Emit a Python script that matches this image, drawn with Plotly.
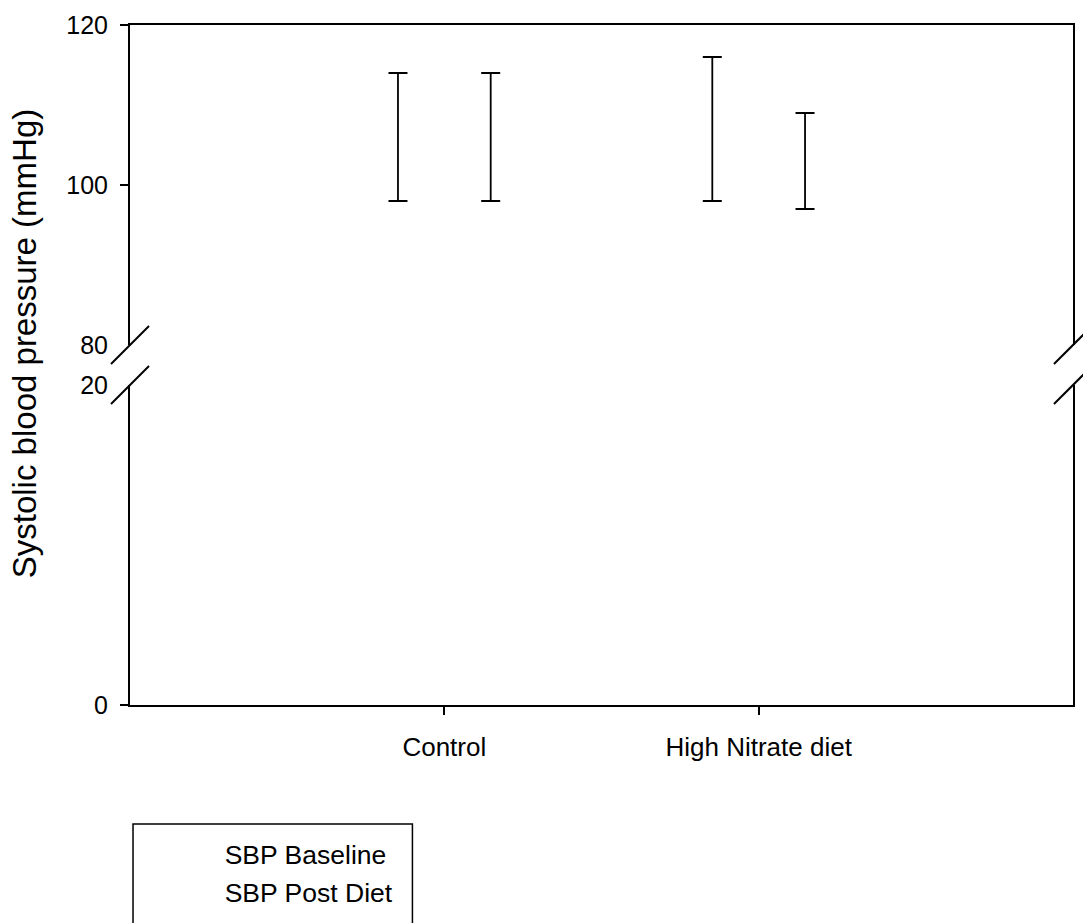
import plotly.graph_objects as go

categories = ["Control", "High Nitrate diet"]
series_names = ["SBP Baseline", "SBP Post Diet"]
baseline_mean = [106, 107]
baseline_err = [8, 9]
post_mean = [106, 103]
post_err = [8, 6]

lower_ticks = [0, 20]
upper_ticks = [80, 100, 120]

FONT = "Liberation Sans, Arial, sans-serif"
LW = 2

fig = go.Figure()

means = [baseline_mean, post_mean]
errs = [baseline_err, post_err]
for name, m, e in zip(series_names, means, errs):
    # upper (80-120) segment with error bars
    fig.add_trace(go.Bar(
        x=categories, y=m, name=name, xaxis="x2", yaxis="y2",
        marker=dict(color="white", line=dict(width=0)),
        error_y=dict(type="data", array=e, visible=True, color="black",
                     thickness=1.8, width=9.5),
        showlegend=True, hoverinfo="skip",
    ))
for name, m in zip(series_names, means):
    # lower (0-20) segment, bars continue (white)
    fig.add_trace(go.Bar(
        x=categories, y=m, name=name, xaxis="x", yaxis="y",
        marker=dict(color="white", line=dict(width=0)),
        showlegend=False, hoverinfo="skip",
    ))

gap_lo = 320 / 680
gap_hi = 360 / 680

axis_common = dict(showline=True, linecolor="black", linewidth=LW,
                   showgrid=False, zeroline=False,
                   tickfont=dict(family=FONT, size=25, color="black"))

fig.update_layout(
    width=1083, height=923,
    margin=dict(l=130, r=8, t=25, b=218),
    paper_bgcolor="white", plot_bgcolor="white",
    barmode="group", bargap=0.41, bargroupgap=0,
    font=dict(family=FONT, size=25, color="black"),
    xaxis=dict(**axis_common, type="category", range=[-1, 2],
               ticks="outside", ticklen=8, tickwidth=LW, tickcolor="black",
               anchor="y", tickfont_size=26, ticklabelstandoff=10),
    xaxis2=dict(showline=True, linecolor="black", linewidth=LW,
                showgrid=False, zeroline=False, type="category",
                range=[-1, 2], matches="x", anchor="y2", side="top",
                showticklabels=False, ticks=""),
    yaxis=dict(**axis_common, domain=[0, gap_lo], range=[0, 20],
               tickvals=lower_ticks, ticks="", mirror=True, anchor="x",
               ticklabelstandoff=15,
               minor=dict(tickvals=[0], ticks="outside", ticklen=8,
                          tickwidth=LW, tickcolor="black", showgrid=False)),
    yaxis2=dict(**axis_common, domain=[gap_hi, 1], range=[80, 120],
                tickvals=upper_ticks, ticks="", mirror=True, anchor="x2",
                ticklabelstandoff=15,
                minor=dict(tickvals=[100, 120], ticks="outside", ticklen=8,
                           tickwidth=LW, tickcolor="black", showgrid=False)),
    legend=dict(x=0.058, y=-0.184, xanchor="left", yanchor="top",
                bgcolor="rgba(0,0,0,0)", borderwidth=0,
                font=dict(family=FONT, size=26.5, color="black")),
    showlegend=True,
)

# axis title
fig.add_annotation(text="Systolic blood pressure (mmHg)", textangle=-90,
                   xref="paper", yref="paper", x=-0.111, y=0.531,
                   xanchor="center", yanchor="middle", showarrow=False,
                   font=dict(family=FONT, size=33, color="black"))

# axis break marks
for xa in (0, 1):
    for ya in (gap_lo, gap_hi):
        fig.add_shape(type="line", xref="paper", yref="paper",
                      xsizemode="pixel", ysizemode="pixel",
                      xanchor=xa, yanchor=ya, x0=-19, x1=19, y0=-19, y1=19,
                      line=dict(color="black", width=LW))

# legend frame
fig.add_shape(type="rect", xref="paper", yref="paper",
              x0=0.0032, x1=0.2995, y0=-0.175, y1=-0.40,
              line=dict(color="black", width=1.5), fillcolor="rgba(0,0,0,0)")

fig.write_html("out.html")
